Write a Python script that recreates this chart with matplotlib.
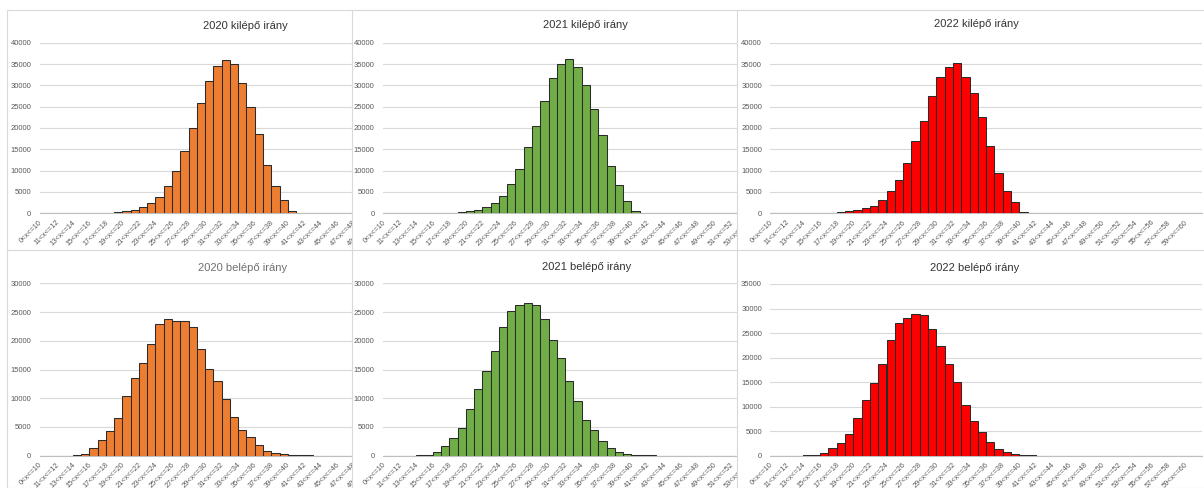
import matplotlib.pyplot as plt
import numpy as np
from matplotlib.patches import Rectangle
from matplotlib.transforms import ScaledTranslation

plt.rcParams['font.family'] = ['Liberation Sans', 'DejaVu Sans']

# kategóriák: 0<x<=10, 10<x<=11, ... 59<x<=60, 60<x
kategoriak = ["0<x<=10"] + [f"{k}<x<={k+1}" for k in range(10, 60)] + ["60<x"]

# értékek a kategóriák sorrendjében (a hiányzó végek nullák)
kilepo_2020 = [0, 0, 0, 0, 40, 40, 50, 60, 100, 300, 450, 750, 1400, 2300, 3900, 6500,
               9900, 14700, 20100, 25800, 31100, 34500, 35900, 35000, 30600, 25000,
               18700, 11400, 6300, 3050, 500, 60, 40, 30, 30, 30]
kilepo_2021 = [0, 0, 0, 0, 40, 40, 50, 60, 120, 230, 470, 780, 1480, 2490, 4120, 6850,
               10350, 15560, 20540, 26380, 31830, 35100, 36260, 34390, 30190, 24360,
               18290, 11050, 6540, 2880, 545, 60, 40, 30, 30, 30, 0, 100]
kilepo_2022 = [0, 0, 0, 0, 40, 50, 60, 100, 230, 470, 700, 1170, 1790, 3190, 5210, 7860,
               11830, 16890, 21710, 27470, 31980, 34400, 35250, 32060, 28250, 22490,
               15880, 9420, 5290, 2570, 390, 80, 50, 40, 30, 30, 30, 30]
belepo_2020 = [0, 0, 0, 0, 50, 290, 1330, 2730, 4240, 6500, 10330, 13460, 16190, 19440,
               22920, 23790, 23390, 23450, 22340, 18570, 15030, 13000, 9870, 6670, 4530,
               3250, 1800, 750, 460, 290, 80, 50, 40, 30, 30, 30, 30]
belepo_2021 = [0, 0, 0, 0, 50, 100, 640, 1680, 3070, 4820, 8070, 11550, 14680, 18220,
               22340, 25130, 26290, 26520, 26290, 23790, 20190, 17000, 13060, 9460, 6150,
               4470, 2550, 1280, 700, 350, 80, 50, 40, 30, 30]
belepo_2022 = [0, 0, 0, 0, 50, 100, 480, 1560, 2650, 4350, 7680, 11280, 14820, 18690,
               23590, 27060, 28140, 28960, 28620, 25760, 22300, 18760, 14960, 10400, 7000,
               4890, 2790, 1360, 750, 340, 80, 50, 40, 30]

cimek = ["2020 kilépő irány", "2021 kilépő irány", "2022 kilépő irány",
         "2020 belépő irány", "2021 belépő irány", "2022 belépő irány"]

W, H = 1204, 488
fig = plt.figure(figsize=(W / 100, H / 100), dpi=100)

n = len(kategoriak)
x = np.arange(n)

# (adatok, szín, ymax, plot bal, kategória szélesség, plot teteje, plot alja, keret bal, keret teteje, cím x, cím y)
panelek = [
    (kilepo_2020, '#ED7D31', 40000, 39.7, 8.27, 42.7, 213.3, 6.7, 10, 245, 26),
    (kilepo_2021, '#70AD47', 40000, 383.0, 8.28, 42.7, 213.3, 352, 10, 585, 25),
    (kilepo_2022, '#FF0000', 40000, 770.3, 8.30, 42.7, 213.3, 737, 10, 976, 24),
    (belepo_2020, '#ED7D31', 30000, 39.7, 8.27, 283.3, 455.7, 6.7, 250, 243, 268),
    (belepo_2021, '#70AD47', 30000, 383.0, 8.28, 283.3, 455.7, 352, 250, 587, 267),
    (belepo_2022, '#FF0000', 35000, 770.3, 8.30, 284.0, 455.7, 737, 250, 975, 268),
]

for k, (adat, szin, ymax, x0, dx, ytop, ybot, kx, ky, tx, ty) in enumerate(panelek):
    z = 2 * k + 1
    # a diagram fehér háttere (a későbbi diagramok eltakarják az előzőket)
    fig.add_artist(Rectangle((kx / W, 0), 600 / W, 1 - ky / H, transform=fig.transFigure,
                             facecolor='white', edgecolor='#d9d9d9', linewidth=0.8, zorder=z))
    ax = fig.add_axes([x0 / W, 1 - ybot / H, n * dx / W, (ybot - ytop) / H], zorder=z + 1)
    ax.patch.set_alpha(0)
    ertek = np.zeros(n)
    ertek[:len(adat)] = adat
    ax.bar(x, ertek, width=1.0, color=szin, edgecolor='#2b2b2b', linewidth=0.75, zorder=3)
    ax.set_xlim(-0.5, n - 0.5)
    ax.set_ylim(0, ymax)
    ax.set_yticks(np.arange(0, ymax + 1, 5000))
    ax.yaxis.grid(True, color='#d9d9d9', linewidth=0.8)
    ax.set_axisbelow(True)
    for s in ['top', 'right', 'left']:
        ax.spines[s].set_visible(False)
    ax.spines['bottom'].set_color('#bfbfbf')
    ax.spines['bottom'].set_linewidth(0.8)
    ax.tick_params(length=0, labelsize=5.5, labelcolor='#595959')
    ax.tick_params(axis='y', pad=6)
    ax.set_xticks(x[::2])
    ax.set_xticklabels(kategoriak[::2], rotation=45, ha='right', va='top',
                       rotation_mode='anchor', fontsize=5.3)
    ax.tick_params(axis='x', pad=4)
    eltol = ScaledTranslation(-0.05, 0, fig.dpi_scale_trans)
    for lbl in ax.get_xticklabels():
        lbl.set_transform(lbl.get_transform() + eltol)
    fig.text(tx / W, 1 - ty / H, cimek[k], ha='center', va='center', fontsize=8,
             color='#707070' if k == 3 else '#333333', zorder=z + 1)

fig.savefig('out.png', dpi=100)
